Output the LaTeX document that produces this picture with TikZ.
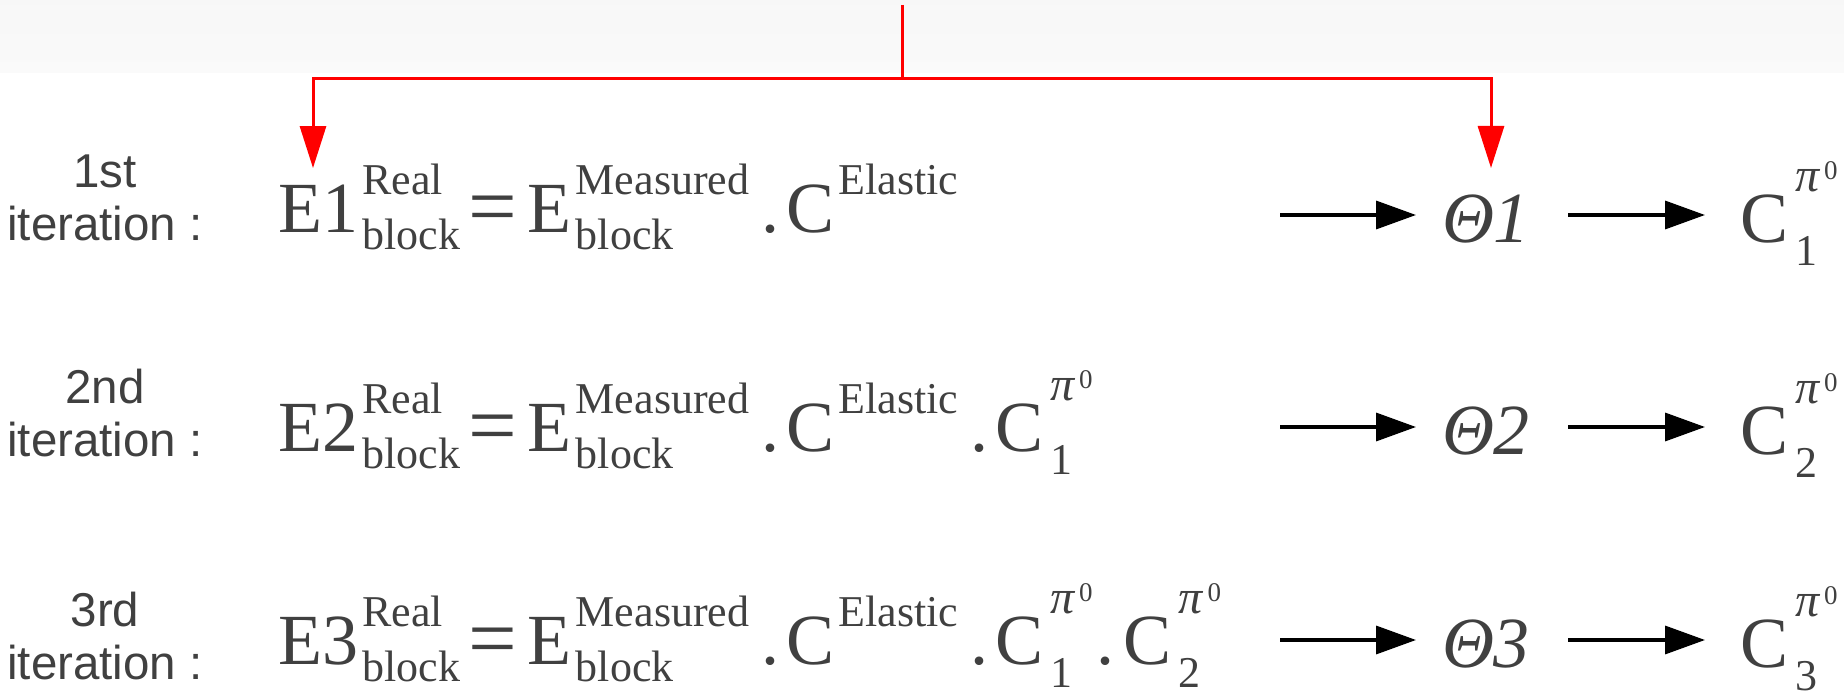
\documentclass[tikz,border=0pt]{standalone}
\usepackage{fontspec}
\setmainfont{Liberation Serif}
\setsansfont{Liberation Sans}
\usepackage{xcolor}
\usepackage{graphicx}
\usepackage{tikz}
\usetikzlibrary{arrows.meta}

\definecolor{inkgray}{RGB}{64,64,64}
\newcommand\eqsz{\fontsize{36}{40}\selectfont}
\newcommand\scrsz{\fontsize{22}{24}\selectfont}
\newcommand\pisz{\fontsize{24}{26}\selectfont}
\newcommand\scrscrsz{\fontsize{13.5}{15}\selectfont}
% sup over sub, sup only, pi^0 over an index, wide equals
\newcommand\ix[2]{\kern2pt\ooalign{\raisebox{19pt}{\scrsz #1}\cr\raisebox{-8.5pt}{\scrsz #2}\cr}}
\newcommand\sps[1]{\kern2pt\raisebox{19pt}{\scrsz #1}}
\newcommand\pz[1]{\kern3.5pt\ooalign{\raisebox{25.5pt}{\pisz\itshape π\kern2.5pt\raisebox{6pt}{\scrscrsz\upshape 0}}\cr\raisebox{-11.5pt}{\scrsz #1}\cr}}
\newcommand\eq{\hspace{4pt}\raisebox{-1.5pt}{\scalebox{1.2}{=}}\hspace{5.5pt}}
\newcommand\dt{\hspace{6pt}.\hspace{3.5pt}}

\begin{document}
\begin{tikzpicture}[x=0.5pt,y=0.5pt,yscale=-1,xscale=1,
	lbl/.style={anchor=south,inner sep=0pt,align=center,text=inkgray,font=\sffamily\fontsize{23.75}{26.5}\selectfont},
	eqn/.style={anchor=base west,inner sep=0pt,text=inkgray,font=\eqsz},
	theta/.style={anchor=base west,inner sep=1pt,outer sep=12pt,text height=28pt,text depth=0pt,text=inkgray,font=\eqsz\itshape},
	cpi/.style={anchor=base west,inner sep=0pt,outer sep=17.5pt,text=inkgray,font=\eqsz},
	flow/.style={line width=1.75pt,-{Triangle[length=20pt,width=14pt]}},
	feed/.style={red,line width=1.5pt,-{Triangle[length=21pt,width=13pt]}}]
			\useasboundingbox (0,0) rectangle (1844,699);
			
			%Shape: Rectangle (header band)
			\shade [top color=black!3,bottom color=black!2] (0,0) rectangle (1844,73);
			
			% Text Node
			\node [lbl] (it1) at (105,241) {1st\\iteration :};
			% Text Node
			\node [lbl] (it2) at (105,457) {2nd\\iteration :};
			% Text Node
			\node [lbl] (it3) at (105,680) {3rd\\iteration :};
			
			% Text Node
			\node [eqn] (e1) at (278,233) {E1\ix{Real}{block}\eq E\ix{Measured}{block}\dt C\sps{Elastic}};
			% Text Node
			\node [eqn] (e2) at (278,452) {E2\ix{Real}{block}\eq E\ix{Measured}{block}\dt C\sps{Elastic}\dt C\pz{1}};
			% Text Node
			\node [eqn] (e3) at (278,665) {E3\ix{Real}{block}\eq E\ix{Measured}{block}\dt C\sps{Elastic}\dt C\pz{1}\hspace{2pt}.\hspace{4.5pt}C\pz{2}};
			
			% Text Node
			\node [theta] (theta1) at (1416,243) {Θ1};
			% Text Node
			\node [theta] (theta2) at (1416,455) {Θ2};
			% Text Node
			\node [theta] (theta3) at (1416,668) {Θ3};
			% Text Node
			\node [cpi] (c1) at (1705,243) {C\pz{1}};
			% Text Node
			\node [cpi] (c2) at (1705,455) {C\pz{2}};
			% Text Node
			\node [cpi] (c3) at (1705,668) {C\pz{3}};
			
			%Straight Lines
			\coordinate (s) at (1280,0);
			\draw [flow] (s |- theta1.west) -- (theta1.west);
			\draw [flow] (s |- theta2.west) -- (theta2.west);
			\draw [flow] (s |- theta3.west) -- (theta3.west);
			\draw [flow,shorten <=6pt] (theta1.east) -- (theta1.east -| c1.west);
			\draw [flow,shorten <=6pt] (theta2.east) -- (theta2.east -| c2.west);
			\draw [flow,shorten <=6pt] (theta3.east) -- (theta3.east -| c3.west);
			
			%Connector (red feed)
			\coordinate (top) at (902,5);
			\coordinate (bar) at (902,79);
			\draw [feed,shorten >=-2pt] (top) -- (bar) -| ([xshift=17.5pt]e1.north west);
			\draw [feed,shorten >=-3.5pt] (bar) -| ([xshift=2.5pt]theta1.north);
			
		\end{tikzpicture}
\end{document}
